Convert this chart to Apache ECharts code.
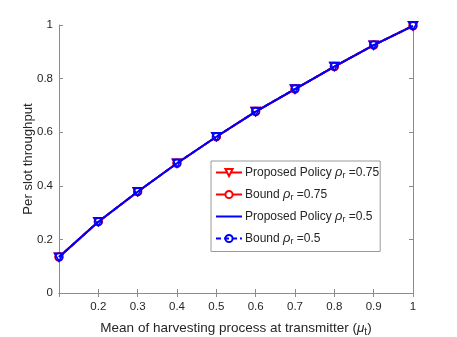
<!DOCTYPE html>
<html>
<head>
<meta charset="utf-8">
<script src="https://cdn.jsdelivr.net/npm/echarts@6/dist/echarts.min.js"></script>
<style>
  html, body { margin: 0; padding: 0; background: #fff; }
  #chart { width: 457px; height: 337px; }
</style>
</head>
<body>
<div id="chart"></div>
<script>
// mean of harvesting process (x axis)
const muT = [0.1, 0.2, 0.3, 0.4, 0.5, 0.6, 0.7, 0.8, 0.9, 1.0];

// per slot throughput
const proposed075 = [0.134, 0.266, 0.378, 0.484, 0.583, 0.677, 0.761, 0.845, 0.925, 0.997];
const bound075    = [0.134, 0.266, 0.378, 0.484, 0.583, 0.677, 0.761, 0.845, 0.925, 0.997];
const proposed05  = [0.134, 0.266, 0.378, 0.484, 0.583, 0.677, 0.761, 0.845, 0.925, 0.997];
const bound05     = [0.134, 0.266, 0.378, 0.484, 0.583, 0.677, 0.761, 0.845, 0.925, 0.997];

const seriesNames = [
  'Proposed Policy ρr =0.75',
  'Bound ρr =0.75',
  'Proposed Policy ρr =0.5',
  'Bound ρr =0.5'
];

const FONT = '"Liberation Sans", Arial, sans-serif';
const AXIS_GRAY = '#8c8c8c';
const TEXT = '#262626';

const chart = echarts.init(document.getElementById('chart'));

const toPairs = (ys) => muT.map((x, i) => [x, ys[i]]);

// hollow down-pointing triangle
const triDown = 'path://M0,0 L10,0 L5,9 Z';

chart.setOption({
  animation: false,
  grid: { left: 59, right: 44, top: 25, bottom: 44, outerBoundsMode: 'none', containLabel: false },
  xAxis: [
    {
      type: 'value',
      min: 0.1, max: 1, interval: 0.1,
      position: 'bottom',
      name: 'Mean of harvesting process at transmitter ({g|μ}{s|t})',
      nameLocation: 'middle',
      nameGap: 27,
      nameTextStyle: {
        fontFamily: FONT, fontSize: 13.5, color: TEXT,
        rich: {
          g: { fontFamily: FONT, fontSize: 13.5, fontStyle: 'italic', color: TEXT },
          s: { fontFamily: FONT, fontSize: 10, color: TEXT, verticalAlign: 'bottom', padding: [7, 0, 0, 0] }
        }
      },
      axisLine: { lineStyle: { color: AXIS_GRAY, width: 1 } },
      axisTick: { inside: true, length: 4, lineStyle: { color: AXIS_GRAY } },
      axisLabel: {
        fontFamily: FONT, fontSize: 11.5, color: TEXT, margin: 8,
        formatter: (v) => (Math.abs(v - 0.1) < 1e-9 ? '' : String(+v.toFixed(1)))
      },
      splitLine: { show: false }
    },
    {
      type: 'value',
      min: 0.1, max: 1, interval: 0.1,
      position: 'top',
      axisLine: { show: true, lineStyle: { color: AXIS_GRAY, width: 1 } },
      axisTick: { show: true, inside: true, length: 4, lineStyle: { color: AXIS_GRAY } },
      axisLabel: { show: false },
      splitLine: { show: false }
    }
  ],
  yAxis: [
    {
      type: 'value',
      min: 0, max: 1, interval: 0.2,
      position: 'left',
      name: 'Per slot throughput',
      nameLocation: 'middle',
      nameGap: 24,
      nameMoveOverlap: false,
      nameTextStyle: { fontFamily: FONT, fontSize: 13.2, color: TEXT },
      axisLine: { show: true, lineStyle: { color: AXIS_GRAY, width: 1 } },
      axisTick: { show: true, inside: true, length: 4, lineStyle: { color: AXIS_GRAY } },
      axisLabel: {
        fontFamily: FONT, fontSize: 11.5, color: TEXT, margin: 6,
        formatter: (v) => String(+v.toFixed(1))
      },
      splitLine: { show: false }
    },
    {
      type: 'value',
      min: 0, max: 1, interval: 0.2,
      position: 'right',
      axisLine: { show: true, lineStyle: { color: AXIS_GRAY, width: 1 } },
      axisTick: { show: true, inside: true, length: 4, lineStyle: { color: AXIS_GRAY } },
      axisLabel: { show: false },
      splitLine: { show: false }
    }
  ],
  legend: {
    orient: 'vertical',
    left: 211,
    top: 161,
    padding: [5, 1, 5, 4],
    itemGap: 7.5,
    itemWidth: 26,
    itemHeight: 9,
    backgroundColor: '#fff',
    borderColor: '#9a9a9a',
    borderWidth: 1,
    borderRadius: 0,
    selectedMode: false,
    data: [
      { name: seriesNames[0] },
      { name: seriesNames[1] },
      { name: seriesNames[2], itemStyle: { color: 'rgba(0,0,0,0)', borderColor: 'rgba(0,0,0,0)', borderWidth: 0, opacity: 0 } },
      { name: seriesNames[3] }
    ],
    formatter: (name) => {
      const m = name.match(/^(.*)ρr (.*)$/);
      return m[1] + '{g|ρ}{s|r} ' + m[2];
    },
    textStyle: {
      fontFamily: FONT, fontSize: 12, color: TEXT, padding: [0, 0, 0, -2],
      rich: {
        g: { fontFamily: FONT, fontSize: 13, fontStyle: 'italic', color: TEXT },
        s: { fontFamily: FONT, fontSize: 9, color: TEXT, verticalAlign: 'bottom', padding: [7, 0, 0, 0] }
      }
    }
  },
  series: [
    {
      name: seriesNames[0],
      type: 'line',
      data: toPairs(proposed075),
      symbol: triDown,
      symbolSize: [9, 8],
      itemStyle: { color: '#fff', borderColor: '#ff0000', borderWidth: 1.5 },
      lineStyle: { color: '#ff0000', width: 2 },
      z: 2
    },
    {
      name: seriesNames[1],
      type: 'line',
      data: toPairs(bound075),
      symbol: 'circle',
      symbolSize: 8,
      itemStyle: { color: '#fff', borderColor: '#ff0000', borderWidth: 1.5 },
      lineStyle: { color: '#ff0000', width: 2 },
      z: 3
    },
    {
      name: seriesNames[2],
      type: 'line',
      data: toPairs(proposed05),
      symbol: 'none',
      itemStyle: { color: '#0000ff' },
      lineStyle: { color: '#0000ff', width: 2 },
      z: 4
    },
    {
      // blue triangle marks on the proposed policy curve (not listed in legend)
      name: 'markers05',
      type: 'line',
      data: toPairs(proposed05),
      symbol: triDown,
      symbolSize: [9, 8],
      itemStyle: { color: 'rgba(0,0,0,0)', borderColor: '#0000ff', borderWidth: 1.5 },
      lineStyle: { width: 0, opacity: 0 },
      z: 4
    },
    {
      name: seriesNames[3],
      type: 'line',
      data: toPairs(bound05),
      symbol: 'circle',
      symbolSize: 7,
      itemStyle: { color: 'rgba(0,0,0,0)', borderColor: '#0000ff', borderWidth: 1.5 },
      lineStyle: { color: '#0000ff', width: 2, type: [5, 3] },
      z: 5
    }
  ]
});
</script>
</body>
</html>
